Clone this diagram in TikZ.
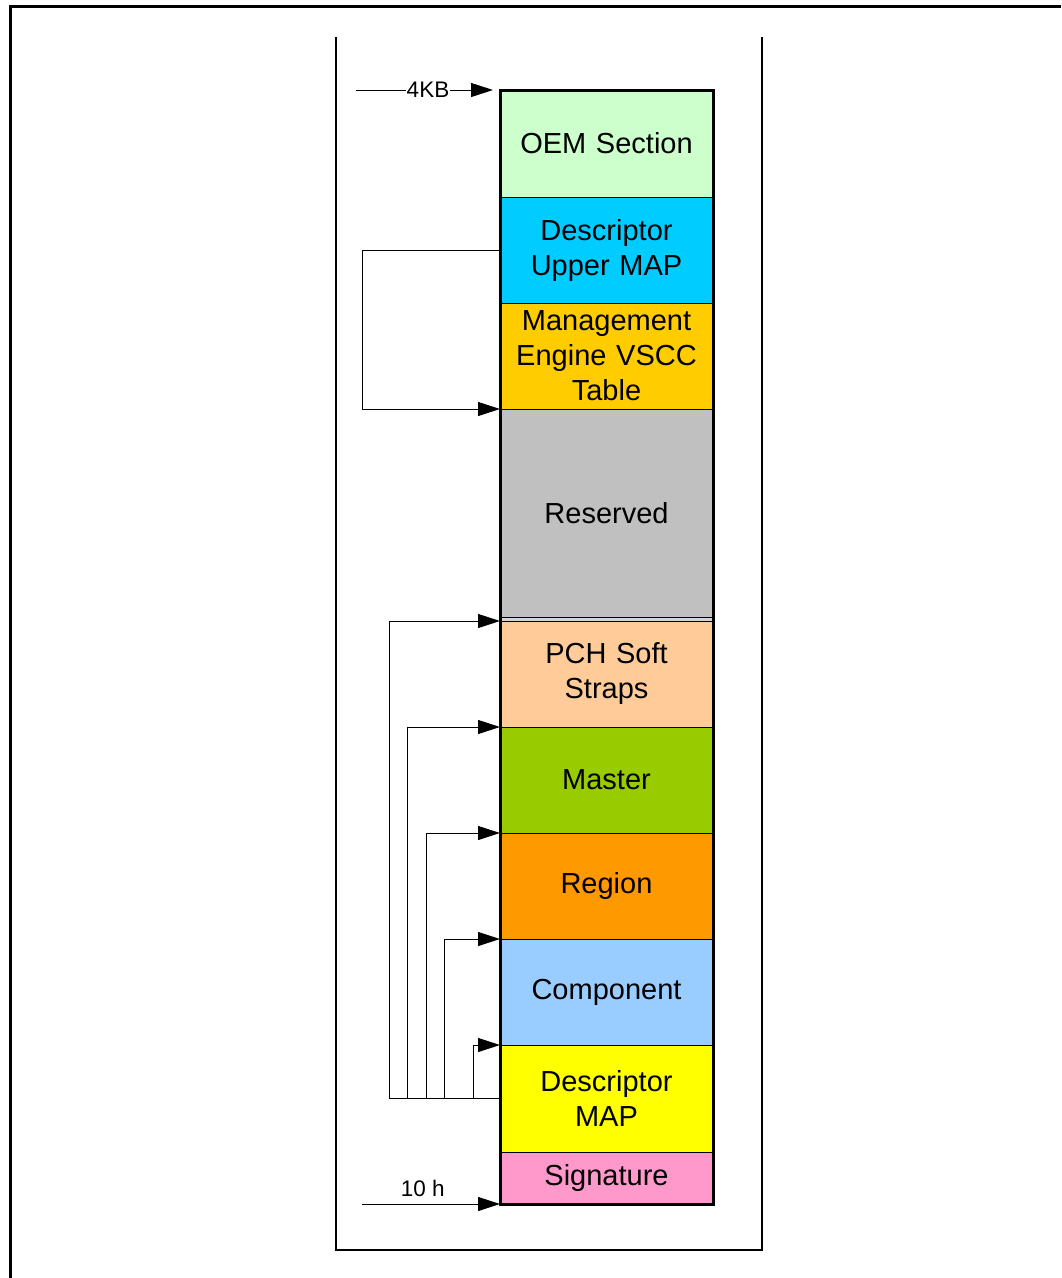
\documentclass[tikz,border=0pt]{standalone}
\usepackage{xcolor}
\usepackage{fontspec}
\setmainfont{Liberation Sans}
\usepackage{tikz}
\usetikzlibrary{positioning,arrows.meta}

\definecolor{oemcol}{HTML}{CCFFCC}
\definecolor{uppercol}{HTML}{00CCFF}
\definecolor{vscccol}{HTML}{FFCC00}
\definecolor{rsvdcol}{HTML}{C0C0C0}
\definecolor{stripcol}{HTML}{D4D4D4}
\definecolor{pchcol}{HTML}{FFCC99}
\definecolor{mastercol}{HTML}{99CC00}
\definecolor{regioncol}{HTML}{FF9900}
\definecolor{compcol}{HTML}{99CCFF}
\definecolor{dmapcol}{HTML}{FFFF00}
\definecolor{sigcol}{HTML}{FF99CC}

\tikzset{
  sect/.style={shape=rectangle,draw=black,line width=1pt,minimum width=213pt,
    text width=205pt,align=center,inner sep=0pt,outer sep=0pt,
    font=\fontsize{29}{35}\selectfont},
  link/.style={line width=1pt,-{Triangle[length=22pt,width=14pt]}},
  tag/.style={font=\fontsize{22.5}{26}\selectfont,inner sep=1pt}
}

\begin{document}
\begin{tikzpicture}[x=1pt,y=-1pt]
\useasboundingbox (0,0) rectangle (1061,1278);
% frames
\draw[line width=3pt] (10,1278) -- (10,6) -- (1061,6);
\draw[line width=2pt] (336,37) -- (336,1250) -- (762,1250) -- (762,37);
% flash descriptor column
\node[sect,fill=oemcol,minimum height=107pt,anchor=north west] (oem) at (500,90) {OEM Section};
\node[sect,fill=uppercol,minimum height=106pt,below=0pt of oem] (upper) {Descriptor\\Upper MAP};
\node[sect,fill=vscccol,minimum height=106pt,below=0pt of upper] (vscc) {Management\\Engine VSCC\\Table};
\node[sect,fill=rsvdcol,minimum height=208pt,below=0pt of vscc] (rsvd) {Reserved};
\node[sect,fill=stripcol,minimum height=4pt,below=0pt of rsvd] (strip) {};
\node[sect,fill=pchcol,minimum height=106pt,below=0pt of strip] (pch) {PCH Soft\\Straps};
\node[sect,fill=mastercol,minimum height=106pt,below=0pt of pch] (master) {Master};
\node[sect,fill=regioncol,minimum height=106pt,below=0pt of master] (region) {Region};
\node[sect,fill=compcol,minimum height=106pt,below=0pt of region] (comp) {Component};
\node[sect,fill=dmapcol,minimum height=107pt,below=0pt of comp] (dmap) {Descriptor\\MAP};
\node[sect,fill=sigcol,minimum height=52pt,below=0pt of dmap] (sig) {Signature};
\draw[line width=3pt] (oem.north west) rectangle (sig.south east);
% offsets
\coordinate (kbstart) at ([xshift=-144pt]oem.north west);
\coordinate (tenstart) at ([xshift=-138pt]sig.south west);
\draw[link,shorten >=7pt] (kbstart) -- node[tag,fill=white] {4KB} (oem.north west);
\draw[link] (tenstart) -- node[tag,above=6pt,pos=.44] {10 h} (sig.south west);
% pointers
\draw[link] (upper.west) -- ++(-138,0) |- (rsvd.north west);
\foreach \dest/\xx in {pch/389,master/407,region/426,comp/444,dmap/473}
  \draw[link] (dmap.west) -- ++({\xx-500},0) |- (\dest.north west);
\end{tikzpicture}
\end{document}
